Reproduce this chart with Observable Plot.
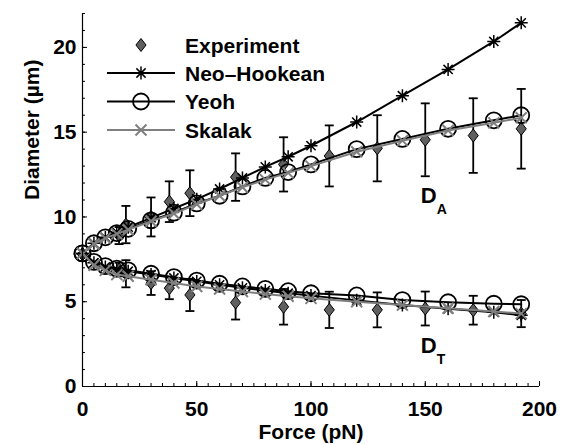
<!DOCTYPE html>
<html><head><meta charset="utf-8">
<script src="https://cdn.jsdelivr.net/npm/d3@7"></script>
<script src="https://cdn.jsdelivr.net/npm/@observablehq/plot@0.6"></script>
<style>body{margin:0;background:#fff;}</style>
</head><body><div id="chart"></div>
<script>
// ---- data ----
const modelForce = [0,5,10,15,20,30,40,50,60,70,80,90,100,120,140,160,180,192];
const neoA    = [7.85,8.45,8.8,9.1,9.4,9.95,10.5,11.05,11.65,12.3,12.95,13.55,14.2,15.6,17.15,18.7,20.35,21.45];
const neoT    = [7.85,7.3,7.05,6.9,6.8,6.6,6.4,6.2,6.0,5.82,5.66,5.5,5.36,5.08,4.8,4.58,4.38,4.2];
const yeohA   = [7.85,8.45,8.8,9.05,9.3,9.8,10.25,10.8,11.25,11.8,12.3,12.65,13.1,14.0,14.6,15.2,15.7,16.0];
const yeohT   = [7.85,7.35,7.1,6.95,6.85,6.65,6.45,6.25,6.06,5.9,5.76,5.62,5.5,5.37,5.1,4.97,4.88,4.85];
const skalakA = [7.85,8.4,8.75,9.0,9.25,9.75,10.2,10.75,11.25,11.75,12.2,12.6,13.0,13.85,14.5,15.1,15.55,15.85];
const skalakT = [7.85,7.15,6.85,6.6,6.5,6.3,6.1,5.9,5.75,5.6,5.45,5.32,5.2,5.0,4.8,4.62,4.42,4.3];

const exptForce = [0,16,19,30,38,47,67,88,108,129,150,171,192];
const exptA = [7.8,8.9,9.55,10.0,10.9,11.4,12.35,13.1,13.6,14.05,14.55,14.8,15.2];
const errA  = [0,0.5,1.1,1.15,1.2,1.35,1.4,1.6,1.8,1.95,2.15,2.2,2.35];
const exptT = [7.8,6.9,6.65,6.1,5.8,5.4,4.95,4.7,4.52,4.52,4.6,4.5,4.3];
const errT  = [0,0.4,0.8,0.7,0.65,0.95,1.0,1.05,1.07,1.03,1.0,0.85,0.8];

const xMajor = [0,50,100,150,200];
const yMajor = [0,5,10,15,20];
const xMinor = d3.range(0,201,5);
const yMinor = d3.range(0,23,1);
const seriesNames = ["Experiment","Neo\u2013Hookean","Yeoh","Skalak"];
const annot = [{label:"D", sub:"A", f:148, d:10.8},{label:"D", sub:"T", f:148, d:1.95}];

// ---- layout ----
const W = 566, H = 445, mL = 82, mR = 27, mT = 13, mB = 59;
const fw = W - mL - mR, fh = H - mT - mB;
const GRAY = "#7f7f7f", DFILL = "#5f5f5f";
const FONT = "'Liberation Sans', Arial, Helvetica, sans-serif";

// ---- symbols ----
const rad = s => Math.sqrt(s / Math.PI);
const diamondSym = {draw(c,s){const r=rad(s), w=r*0.78; c.moveTo(0,-r);c.lineTo(w,0);c.lineTo(0,r);c.lineTo(-w,0);c.closePath();}};
const starSym = {draw(c,s){const r=rad(s), d=r*Math.SQRT1_2; c.moveTo(0,-r);c.lineTo(0,r);c.moveTo(-r,0);c.lineTo(r,0);c.moveTo(-d,-d);c.lineTo(d,d);c.moveTo(-d,d);c.lineTo(d,-d);}};
const xSym = {draw(c,s){const r=rad(s); c.moveTo(-r,-r);c.lineTo(r,r);c.moveTo(-r,r);c.lineTo(r,-r);}};
const capSym = {draw(c,s){const r=rad(s); c.moveTo(-r,0);c.lineTo(r,0);}};

const rows = modelForce.map((f,i)=>({f, neoA:neoA[i], neoT:neoT[i], yeohA:yeohA[i], yeohT:yeohT[i], skA:skalakA[i], skT:skalakT[i]}));
const expt = exptForce.map((f,i)=>({f, a:exptA[i], ea:errA[i], t:exptT[i], et:errT[i]}));
const withErr = expt.filter(d=>d.ea>0);

function modelMarks(kA,kT,stroke,sym,r,sw){
  const m = [];
  for (const k of [kA,kT]) {
    m.push(Plot.line(rows,{x:"f", y:k, stroke, strokeWidth:2}));
    m.push(Plot.dot(rows,{x:"f", y:k, symbol:sym, r, stroke, fill:"none", strokeWidth:sw}));
  }
  return m;
}

const errMarks = [];
for (const [v,e] of [["a","ea"],["t","et"]]) {
  errMarks.push(Plot.ruleX(withErr,{x:"f", y1:d=>d[v]-d[e], y2:d=>d[v]+d[e], stroke:"black", strokeWidth:1.8}));
  errMarks.push(Plot.dot(withErr,{x:"f", y:d=>d[v]-d[e], symbol:capSym, r:4.5, stroke:"black", strokeWidth:1.8, fill:"none"}));
  errMarks.push(Plot.dot(withErr,{x:"f", y:d=>d[v]+d[e], symbol:capSym, r:4.5, stroke:"black", strokeWidth:1.8, fill:"none"}));
  errMarks.push(Plot.dot(expt,{x:"f", y:v, symbol:diamondSym, r:6.5, fill:DFILL, stroke:"black", strokeWidth:1}));
}

const svg = Plot.plot({
  width: W, height: H, marginLeft: mL, marginRight: mR, marginTop: mT, marginBottom: mB,
  style: {fontFamily: FONT, fontSize: "21px", fontWeight: "bold", background: "white", color: "black", overflow: "visible"},
  x: {domain:[0,200], ticks: xMajor, tickSize: 0, tickPadding: 15, label: null},
  y: {domain:[0,22], ticks: yMajor, tickSize: 0, tickPadding: 6, label: null},
  marks: [
    ...errMarks,
    ...modelMarks("neoA","neoT","black",starSym,6.5,1.5),
    ...modelMarks("yeohA","yeohT","black","circle",8,1.8),
    ...modelMarks("skA","skT",GRAY,xSym,5.5,2),
    Plot.tickX(xMinor,{x:d=>d, insetTop: fh-3, stroke:"black"}),
    Plot.tickX(xMajor,{x:d=>d, insetTop: fh-5, stroke:"black"}),
    Plot.tickY(yMinor,{y:d=>d, insetRight: fw-3, stroke:"black"}),
    Plot.tickY(yMajor,{y:d=>d, insetRight: fw-5, stroke:"black"}),
    Plot.ruleX([0],{stroke:"black", strokeWidth:1.2}),
    Plot.ruleY([0],{stroke:"black", strokeWidth:1.2}),
    Plot.text(["Force (pN)"],{text:d=>d, frameAnchor:"bottom", dy:38, lineAnchor:"top", fontSize:21, fontWeight:"bold"}),
    Plot.text(["Diameter (\u00b5m)"],{text:d=>d, frameAnchor:"left", dx:-58, rotate:-90, lineAnchor:"top", fontSize:21, fontWeight:"bold"}),
    Plot.text(annot,{x:"f", y:"d", text:"label", textAnchor:"start", lineAnchor:"bottom", fontSize:22, fontWeight:"bold"}),
    Plot.text(annot,{x:"f", y:"d", text:"sub", textAnchor:"start", lineAnchor:"bottom", dx:16, dy:11, fontSize:14, fontWeight:"bold"})
  ]
});

// ---- legend (inside the axes, top-left) ----
const g = d3.select(svg).append("g").attr("class","legend");
const ly = [45,73,101.5,130];
const lineStroke = [null,"black","black",GRAY];
const syms = [
  {sym:diamondSym, r:6.5, fill:DFILL, stroke:"black", sw:1},
  {sym:starSym, r:6.5, fill:"none", stroke:"black", sw:1.5},
  {sym:d3.symbolCircle, r:8, fill:"none", stroke:"black", sw:1.8},
  {sym:xSym, r:5.5, fill:"none", stroke:GRAY, sw:2}
];
seriesNames.forEach((name,i)=>{
  if (lineStroke[i]) g.append("line").attr("x1",107).attr("x2",175).attr("y1",ly[i]).attr("y2",ly[i]).attr("stroke",lineStroke[i]).attr("stroke-width",2);
  const s = syms[i];
  g.append("path").attr("transform",`translate(141,${ly[i]})`)
    .attr("d", d3.symbol(s.sym, s.r*s.r*Math.PI)())
    .attr("fill", s.fill).attr("stroke", s.stroke).attr("stroke-width", s.sw);
  g.append("text").attr("x",185).attr("y",ly[i]+7.5).text(name)
    .attr("text-anchor","start")
    .attr("font-family",FONT).attr("font-size",21).attr("font-weight","bold").attr("fill","black");
});

document.getElementById("chart").appendChild(svg);
</script>
</body></html>
